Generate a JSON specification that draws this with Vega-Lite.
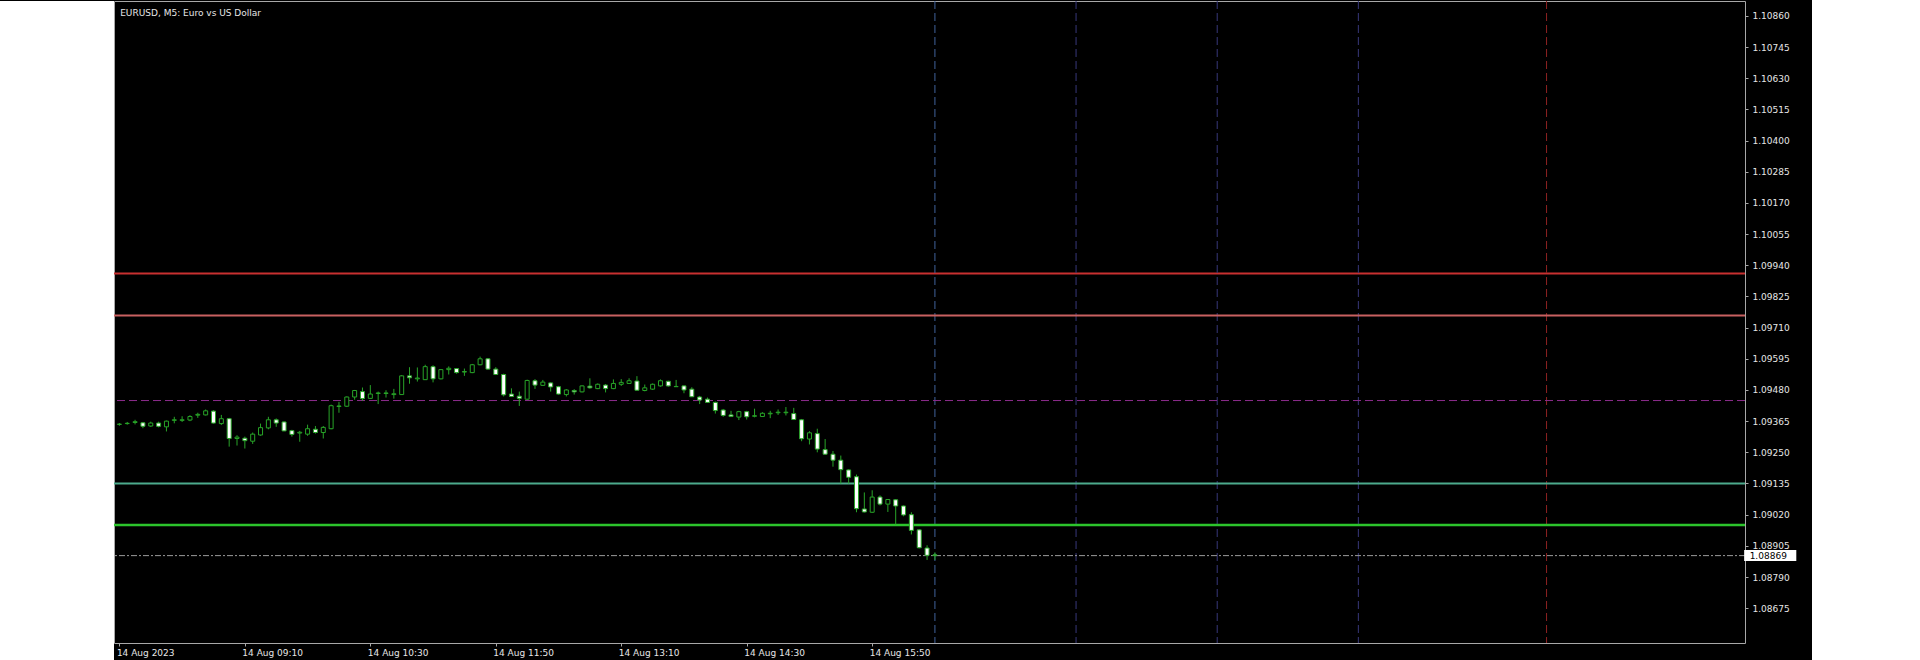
{
  "$schema": "https://vega.github.io/schema/vega-lite/v6.json",
  "background": "black",
  "padding": {"left": 0, "top": 0, "right": 15, "bottom": 0},
  "spacing": 0,
  "bounds": "flush",
  "config": {
    "axis": {"labelOverlap": false, "labelFlush": false, "labelBound": false, "grid": false, "domain": false, "tickColor": "#a8a8a8", "labelColor": "#e6e6e6", "labelFont": "DejaVu Sans", "labelFontSize": 9, "tickSize": 3, "labelSeparation": 0}
  },
  "datasets": {
    "bars": [
      {"t":"2023-08-14T07:50:00Z","o":1.09353,"h":1.09358,"l":1.09348,"c":1.09354},
      {"t":"2023-08-14T07:55:00Z","o":1.09356,"h":1.09362,"l":1.09352,"c":1.09357},
      {"t":"2023-08-14T08:00:00Z","o":1.09360,"h":1.09370,"l":1.09353,"c":1.09363},
      {"t":"2023-08-14T08:05:00Z","o":1.09359,"h":1.09362,"l":1.09339,"c":1.09346},
      {"t":"2023-08-14T08:10:00Z","o":1.09347,"h":1.09363,"l":1.09344,"c":1.09358},
      {"t":"2023-08-14T08:15:00Z","o":1.09358,"h":1.09363,"l":1.09342,"c":1.09346},
      {"t":"2023-08-14T08:20:00Z","o":1.09344,"h":1.09367,"l":1.09327,"c":1.09365},
      {"t":"2023-08-14T08:25:00Z","o":1.09368,"h":1.09381,"l":1.09357,"c":1.09370},
      {"t":"2023-08-14T08:30:00Z","o":1.09368,"h":1.09383,"l":1.09362,"c":1.09370},
      {"t":"2023-08-14T08:35:00Z","o":1.09369,"h":1.09387,"l":1.09365,"c":1.09382},
      {"t":"2023-08-14T08:40:00Z","o":1.09387,"h":1.09396,"l":1.09377,"c":1.09390},
      {"t":"2023-08-14T08:45:00Z","o":1.09388,"h":1.09408,"l":1.09386,"c":1.09403},
      {"t":"2023-08-14T08:50:00Z","o":1.09402,"h":1.09405,"l":1.09356,"c":1.09358},
      {"t":"2023-08-14T08:55:00Z","o":1.09356,"h":1.09388,"l":1.09351,"c":1.09374},
      {"t":"2023-08-14T09:00:00Z","o":1.09374,"h":1.09377,"l":1.09271,"c":1.09301},
      {"t":"2023-08-14T09:05:00Z","o":1.09301,"h":1.09313,"l":1.09275,"c":1.09306},
      {"t":"2023-08-14T09:10:00Z","o":1.09302,"h":1.09308,"l":1.09264,"c":1.09293},
      {"t":"2023-08-14T09:15:00Z","o":1.09291,"h":1.09323,"l":1.09281,"c":1.09317},
      {"t":"2023-08-14T09:20:00Z","o":1.09314,"h":1.09356,"l":1.09311,"c":1.09341},
      {"t":"2023-08-14T09:25:00Z","o":1.09340,"h":1.09381,"l":1.09335,"c":1.09370},
      {"t":"2023-08-14T09:30:00Z","o":1.09370,"h":1.09375,"l":1.09344,"c":1.09358},
      {"t":"2023-08-14T09:35:00Z","o":1.09362,"h":1.09364,"l":1.09328,"c":1.09329},
      {"t":"2023-08-14T09:40:00Z","o":1.09330,"h":1.09333,"l":1.09308,"c":1.09316},
      {"t":"2023-08-14T09:45:00Z","o":1.09321,"h":1.09329,"l":1.09289,"c":1.09324},
      {"t":"2023-08-14T09:50:00Z","o":1.09317,"h":1.09352,"l":1.09311,"c":1.09337},
      {"t":"2023-08-14T09:55:00Z","o":1.09335,"h":1.09347,"l":1.09319,"c":1.09323},
      {"t":"2023-08-14T10:00:00Z","o":1.09323,"h":1.09347,"l":1.09301,"c":1.09342},
      {"t":"2023-08-14T10:05:00Z","o":1.09337,"h":1.09426,"l":1.09335,"c":1.09422},
      {"t":"2023-08-14T10:10:00Z","o":1.09419,"h":1.09436,"l":1.09396,"c":1.09421},
      {"t":"2023-08-14T10:15:00Z","o":1.09420,"h":1.09456,"l":1.09417,"c":1.09454},
      {"t":"2023-08-14T10:20:00Z","o":1.09454,"h":1.09480,"l":1.09444,"c":1.09478},
      {"t":"2023-08-14T10:25:00Z","o":1.09474,"h":1.09489,"l":1.09440,"c":1.09448},
      {"t":"2023-08-14T10:30:00Z","o":1.09449,"h":1.09498,"l":1.09448,"c":1.09465},
      {"t":"2023-08-14T10:35:00Z","o":1.09467,"h":1.09474,"l":1.09428,"c":1.09469},
      {"t":"2023-08-14T10:40:00Z","o":1.09467,"h":1.09479,"l":1.09452,"c":1.09469},
      {"t":"2023-08-14T10:45:00Z","o":1.09463,"h":1.09484,"l":1.09448,"c":1.09466},
      {"t":"2023-08-14T10:50:00Z","o":1.09463,"h":1.09535,"l":1.09462,"c":1.09532},
      {"t":"2023-08-14T10:55:00Z","o":1.09532,"h":1.09564,"l":1.09503,"c":1.09525},
      {"t":"2023-08-14T11:00:00Z","o":1.09521,"h":1.09563,"l":1.09511,"c":1.09524},
      {"t":"2023-08-14T11:05:00Z","o":1.09518,"h":1.09573,"l":1.09517,"c":1.09566},
      {"t":"2023-08-14T11:10:00Z","o":1.09566,"h":1.09571,"l":1.09508,"c":1.09521},
      {"t":"2023-08-14T11:15:00Z","o":1.09521,"h":1.09557,"l":1.09519,"c":1.09555},
      {"t":"2023-08-14T11:20:00Z","o":1.09555,"h":1.09567,"l":1.09537,"c":1.09560},
      {"t":"2023-08-14T11:25:00Z","o":1.09559,"h":1.09561,"l":1.09540,"c":1.09544},
      {"t":"2023-08-14T11:30:00Z","o":1.09546,"h":1.09559,"l":1.09532,"c":1.09548},
      {"t":"2023-08-14T11:35:00Z","o":1.09544,"h":1.09576,"l":1.09542,"c":1.09573},
      {"t":"2023-08-14T11:40:00Z","o":1.09573,"h":1.09603,"l":1.09571,"c":1.09595},
      {"t":"2023-08-14T11:45:00Z","o":1.09595,"h":1.09598,"l":1.09555,"c":1.09557},
      {"t":"2023-08-14T11:50:00Z","o":1.09557,"h":1.09564,"l":1.09535,"c":1.09537},
      {"t":"2023-08-14T11:55:00Z","o":1.09537,"h":1.09540,"l":1.09456,"c":1.09462},
      {"t":"2023-08-14T12:00:00Z","o":1.09465,"h":1.09486,"l":1.09455,"c":1.09456},
      {"t":"2023-08-14T12:05:00Z","o":1.09457,"h":1.09474,"l":1.09421,"c":1.09449},
      {"t":"2023-08-14T12:10:00Z","o":1.09446,"h":1.09518,"l":1.09444,"c":1.09515},
      {"t":"2023-08-14T12:15:00Z","o":1.09514,"h":1.09520,"l":1.09484,"c":1.09498},
      {"t":"2023-08-14T12:20:00Z","o":1.09497,"h":1.09517,"l":1.09495,"c":1.09509},
      {"t":"2023-08-14T12:25:00Z","o":1.09506,"h":1.09508,"l":1.09474,"c":1.09491},
      {"t":"2023-08-14T12:30:00Z","o":1.09492,"h":1.09495,"l":1.09463,"c":1.09465},
      {"t":"2023-08-14T12:35:00Z","o":1.09463,"h":1.09483,"l":1.09456,"c":1.09480},
      {"t":"2023-08-14T12:40:00Z","o":1.09478,"h":1.09483,"l":1.09463,"c":1.09473},
      {"t":"2023-08-14T12:45:00Z","o":1.09473,"h":1.09497,"l":1.09471,"c":1.09495},
      {"t":"2023-08-14T12:50:00Z","o":1.09494,"h":1.09523,"l":1.09485,"c":1.09488},
      {"t":"2023-08-14T12:55:00Z","o":1.09485,"h":1.09504,"l":1.09483,"c":1.09501},
      {"t":"2023-08-14T13:00:00Z","o":1.09498,"h":1.09502,"l":1.09471,"c":1.09485},
      {"t":"2023-08-14T13:05:00Z","o":1.09485,"h":1.09519,"l":1.09483,"c":1.09504},
      {"t":"2023-08-14T13:10:00Z","o":1.09501,"h":1.09520,"l":1.09495,"c":1.09508},
      {"t":"2023-08-14T13:15:00Z","o":1.09504,"h":1.09523,"l":1.09502,"c":1.09514},
      {"t":"2023-08-14T13:20:00Z","o":1.09513,"h":1.09531,"l":1.09478,"c":1.09479},
      {"t":"2023-08-14T13:25:00Z","o":1.09478,"h":1.09500,"l":1.09475,"c":1.09488},
      {"t":"2023-08-14T13:30:00Z","o":1.09483,"h":1.09504,"l":1.09480,"c":1.09501},
      {"t":"2023-08-14T13:35:00Z","o":1.09495,"h":1.09519,"l":1.09492,"c":1.09514},
      {"t":"2023-08-14T13:40:00Z","o":1.09512,"h":1.09514,"l":1.09492,"c":1.09495},
      {"t":"2023-08-14T13:45:00Z","o":1.09492,"h":1.09517,"l":1.09491,"c":1.09493},
      {"t":"2023-08-14T13:50:00Z","o":1.09495,"h":1.09497,"l":1.09468,"c":1.09480},
      {"t":"2023-08-14T13:55:00Z","o":1.09483,"h":1.09490,"l":1.09454,"c":1.09455},
      {"t":"2023-08-14T14:00:00Z","o":1.09454,"h":1.09458,"l":1.09428,"c":1.09443},
      {"t":"2023-08-14T14:05:00Z","o":1.09446,"h":1.09452,"l":1.09432,"c":1.09434},
      {"t":"2023-08-14T14:10:00Z","o":1.09434,"h":1.09437,"l":1.09393,"c":1.09404},
      {"t":"2023-08-14T14:15:00Z","o":1.09406,"h":1.09410,"l":1.09381,"c":1.09386},
      {"t":"2023-08-14T14:20:00Z","o":1.09388,"h":1.09403,"l":1.09381,"c":1.09382},
      {"t":"2023-08-14T14:25:00Z","o":1.09380,"h":1.09403,"l":1.09369,"c":1.09400},
      {"t":"2023-08-14T14:30:00Z","o":1.09400,"h":1.09403,"l":1.09371,"c":1.09381},
      {"t":"2023-08-14T14:35:00Z","o":1.09383,"h":1.09411,"l":1.09379,"c":1.09385},
      {"t":"2023-08-14T14:40:00Z","o":1.09382,"h":1.09398,"l":1.09381,"c":1.09394},
      {"t":"2023-08-14T14:45:00Z","o":1.09392,"h":1.09403,"l":1.09376,"c":1.09394},
      {"t":"2023-08-14T14:50:00Z","o":1.09396,"h":1.09408,"l":1.09388,"c":1.09398},
      {"t":"2023-08-14T14:55:00Z","o":1.09396,"h":1.09417,"l":1.09386,"c":1.09398},
      {"t":"2023-08-14T15:00:00Z","o":1.09393,"h":1.09414,"l":1.09369,"c":1.09371},
      {"t":"2023-08-14T15:05:00Z","o":1.09370,"h":1.09373,"l":1.09291,"c":1.09300},
      {"t":"2023-08-14T15:10:00Z","o":1.09299,"h":1.09328,"l":1.09279,"c":1.09322},
      {"t":"2023-08-14T15:15:00Z","o":1.09319,"h":1.09337,"l":1.09250,"c":1.09262},
      {"t":"2023-08-14T15:20:00Z","o":1.09260,"h":1.09299,"l":1.09241,"c":1.09243},
      {"t":"2023-08-14T15:25:00Z","o":1.09243,"h":1.09255,"l":1.09197,"c":1.09221},
      {"t":"2023-08-14T15:30:00Z","o":1.09221,"h":1.09238,"l":1.09135,"c":1.09186},
      {"t":"2023-08-14T15:35:00Z","o":1.09185,"h":1.09187,"l":1.09135,"c":1.09158},
      {"t":"2023-08-14T15:40:00Z","o":1.09160,"h":1.09168,"l":1.09029,"c":1.09042},
      {"t":"2023-08-14T15:45:00Z","o":1.09041,"h":1.09102,"l":1.09028,"c":1.09030},
      {"t":"2023-08-14T15:50:00Z","o":1.09029,"h":1.09110,"l":1.09027,"c":1.09085},
      {"t":"2023-08-14T15:55:00Z","o":1.09085,"h":1.09091,"l":1.09054,"c":1.09059},
      {"t":"2023-08-14T16:00:00Z","o":1.09059,"h":1.09077,"l":1.09030,"c":1.09076},
      {"t":"2023-08-14T16:05:00Z","o":1.09075,"h":1.09077,"l":1.08984,"c":1.09052},
      {"t":"2023-08-14T16:10:00Z","o":1.09052,"h":1.09054,"l":1.09014,"c":1.09019},
      {"t":"2023-08-14T16:15:00Z","o":1.09020,"h":1.09029,"l":1.08947,"c":1.08962},
      {"t":"2023-08-14T16:20:00Z","o":1.08964,"h":1.08966,"l":1.08896,"c":1.08898},
      {"t":"2023-08-14T16:25:00Z","o":1.08897,"h":1.08907,"l":1.08853,"c":1.08870},
      {"t":"2023-08-14T16:30:00Z","o":1.08872,"h":1.08881,"l":1.08853,"c":1.08869}
    ],
    "levels": [
      {"id":"L1","price":1.09910},
      {"id":"L2","price":1.09755},
      {"id":"L3","price":1.09441},
      {"id":"L4","price":1.09135},
      {"id":"L5","price":1.08982}
    ],
    "bid": [{"price":1.08869}],
    "info": [{"label":"EURUSD, M5:  Euro vs US Dollar"}],
    "vlines": [
      {"id":"V1","t":"2023-08-14T16:30:00Z"},
      {"id":"V2","t":"2023-08-14T18:00:00Z"},
      {"id":"V3","t":"2023-08-14T19:30:00Z"},
      {"id":"V4","t":"2023-08-14T21:00:00Z"},
      {"id":"V5","t":"2023-08-14T23:00:00Z"}
    ]
  },
  "hconcat": [
    {
      "width": 114,
      "height": 660,
      "view": {"fill": "white", "stroke": null},
      "data": {"values": [{}]},
      "mark": {"type": "text", "text": ""},
      "encoding": {}
    },
    {
      "width": 1631,
      "height": 642,
      "view": {"fill": "black", "stroke": "#a8a8a8", "strokeWidth": 1},
      "layer": [
        {
          "data": {"name": "levels"},
          "transform": [{"filter": "datum.id == 'L1'"}],
          "mark": {"type": "rule", "color": "#c83030", "strokeWidth": 2},
          "encoding": {
            "y": {
              "field": "price", "type": "quantitative",
              "scale": {"domain": [1.085651, 1.108963], "nice": false, "zero": false},
              "axis": {
                "orient": "right",
                "title": null,
                "values": [1.1086, 1.10745, 1.1063, 1.10515, 1.104, 1.10285, 1.1017, 1.10055, 1.0994, 1.09825, 1.0971, 1.09595, 1.0948, 1.09365, 1.0925, 1.09135, 1.0902, 1.08905, 1.0879, 1.08675],
                "tickCount": 40,
                "format": ".5f",
                "grid": false,
                "domain": false,
                "tickSize": 3,
                "tickColor": "#a8a8a8",
                "labelPadding": 4,
                "labelAlign": "left",
                "labelBaseline": "middle",
                "labelFlush": false,
                "labelOverlap": false,
                "labelBound": false,
                "labelColor": "#e6e6e6",
                "labelFont": "DejaVu Sans",
                "labelFontSize": 9,
                "zindex": 0
              }
            }
          }
        },
        {
          "data": {"name": "vlines"},
          "transform": [{"filter": "datum.id == 'V1'"}],
          "mark": {"type": "rule", "color": "#41629c", "strokeWidth": 1, "strokeDash": [8, 4]},
          "encoding": {
            "x": {
              "field": "t", "type": "temporal",
              "scale": {"type": "utc", "domain": [
                {"year": 2023, "month": 8, "date": 14, "hours": 7, "minutes": 49, "seconds": 45, "utc": true},
                {"year": 2023, "month": 8, "date": 15, "hours": 1, "minutes": 3, "seconds": 21, "utc": true}
              ]},
              "axis": {
                "title": null,
                "values": [
                  {"year": 2023, "month": 8, "date": 14, "hours": 7, "minutes": 50, "utc": true},
                  {"year": 2023, "month": 8, "date": 14, "hours": 9, "minutes": 10, "utc": true},
                  {"year": 2023, "month": 8, "date": 14, "hours": 10, "minutes": 30, "utc": true},
                  {"year": 2023, "month": 8, "date": 14, "hours": 11, "minutes": 50, "utc": true},
                  {"year": 2023, "month": 8, "date": 14, "hours": 13, "minutes": 10, "utc": true},
                  {"year": 2023, "month": 8, "date": 14, "hours": 14, "minutes": 30, "utc": true},
                  {"year": 2023, "month": 8, "date": 14, "hours": 15, "minutes": 50, "utc": true}
                ],
                "tickCount": 40,
                "labelExpr": "utcFormat(datum.value, '%H:%M') == '07:50' ? utcFormat(datum.value, '%d %b %Y') : utcFormat(datum.value, '%d %b %H:%M')",
                "grid": false,
                "domain": false,
                "tickSize": 3,
                "tickColor": "#a8a8a8",
                "labelAlign": "left",
                "labelBaseline": "top",
                "labelPadding": 2,
                "labelOffset": -3,
                "labelFlush": false,
                "labelOverlap": false,
                "labelBound": false,
                "labelColor": "#e6e6e6",
                "labelFont": "DejaVu Sans",
                "labelFontSize": 9,
                "zindex": 0
              }
            }
          }
        },
        {
          "data": {"name": "vlines"},
          "transform": [{"filter": "datum.id == 'V2' || datum.id == 'V3' || datum.id == 'V4'"}],
          "mark": {"type": "rule", "color": "#38387a", "strokeWidth": 1, "strokeDash": [8, 4]},
          "encoding": {"x": {"field": "t", "type": "temporal"}}
        },
        {
          "data": {"name": "vlines"},
          "transform": [{"filter": "datum.id == 'V5'"}],
          "mark": {"type": "rule", "color": "#8e2222", "strokeWidth": 1, "strokeDash": [8, 4]},
          "encoding": {"x": {"field": "t", "type": "temporal"}}
        },
        {
          "data": {"name": "levels"},
          "transform": [{"filter": "datum.id == 'L2'"}],
          "mark": {"type": "rule", "color": "#c86060", "strokeWidth": 2},
          "encoding": {"y": {"field": "price", "type": "quantitative"}}
        },
        {
          "data": {"name": "levels"},
          "transform": [{"filter": "datum.id == 'L3'"}],
          "mark": {"type": "rule", "color": "#8c2c8c", "strokeWidth": 1, "strokeDash": [8, 4]},
          "encoding": {"y": {"field": "price", "type": "quantitative"}}
        },
        {
          "data": {"name": "levels"},
          "transform": [{"filter": "datum.id == 'L4'"}],
          "mark": {"type": "rule", "color": "#4caa8c", "strokeWidth": 2},
          "encoding": {"y": {"field": "price", "type": "quantitative"}}
        },
        {
          "data": {"name": "levels"},
          "transform": [{"filter": "datum.id == 'L5'"}],
          "mark": {"type": "rule", "color": "#2cc42c", "strokeWidth": 2.5},
          "encoding": {"y": {"field": "price", "type": "quantitative"}}
        },
        {
          "data": {"name": "bid"},
          "mark": {"type": "rule", "color": "#9a9a9a", "strokeWidth": 1, "strokeDash": [6, 2, 2, 2]},
          "encoding": {"y": {"field": "price", "type": "quantitative"}}
        },
        {
          "data": {"name": "bars"},
          "mark": {"type": "rule", "color": "#28a428", "strokeWidth": 1, "clip": true},
          "encoding": {
            "x": {"field": "t", "type": "temporal"},
            "y": {"field": "l", "type": "quantitative"},
            "y2": {"field": "h"}
          }
        },
        {
          "data": {"name": "bars"},
          "mark": {"type": "bar", "width": 4, "stroke": "#28a428", "strokeWidth": 1, "clip": true},
          "encoding": {
            "x": {"field": "t", "type": "temporal"},
            "y": {"field": "o", "type": "quantitative"},
            "y2": {"field": "c"},
            "fill": {"condition": {"test": "datum.c >= datum.o", "value": "black"}, "value": "white"}
          }
        },
        {
          "data": {"name": "bid"},
          "mark": {"type": "bar", "color": "white", "height": 11},
          "encoding": {
            "x": {"datum": {"year": 2023, "month": 8, "date": 15, "hours": 1, "minutes": 6, "seconds": 0, "utc": true}, "type": "temporal"},
            "x2": {"datum": {"year": 2023, "month": 8, "date": 15, "hours": 1, "minutes": 39, "seconds": 15, "utc": true}},
            "y": {"field": "price", "type": "quantitative"}
          }
        },
        {
          "data": {"name": "bid"},
          "mark": {"type": "text", "align": "left", "baseline": "middle", "font": "DejaVu Sans", "fontSize": 9, "color": "black"},
          "encoding": {
            "x": {"datum": {"year": 2023, "month": 8, "date": 15, "hours": 1, "minutes": 9, "seconds": 30, "utc": true}, "type": "temporal"},
            "y": {"field": "price", "type": "quantitative"},
            "text": {"field": "price", "type": "quantitative", "format": ".5f"}
          }
        },
        {
          "data": {"name": "info"},
          "mark": {"type": "text", "align": "left", "baseline": "alphabetic", "font": "DejaVu Sans", "fontSize": 9, "color": "#e6e6e6"},
          "encoding": {
            "x": {"datum": {"year": 2023, "month": 8, "date": 14, "hours": 7, "minutes": 50, "seconds": 30, "utc": true}, "type": "temporal"},
            "y": {"datum": 1.108582, "type": "quantitative"},
            "text": {"field": "label", "type": "nominal"}
          }
        }
      ]
    }
  ]
}
